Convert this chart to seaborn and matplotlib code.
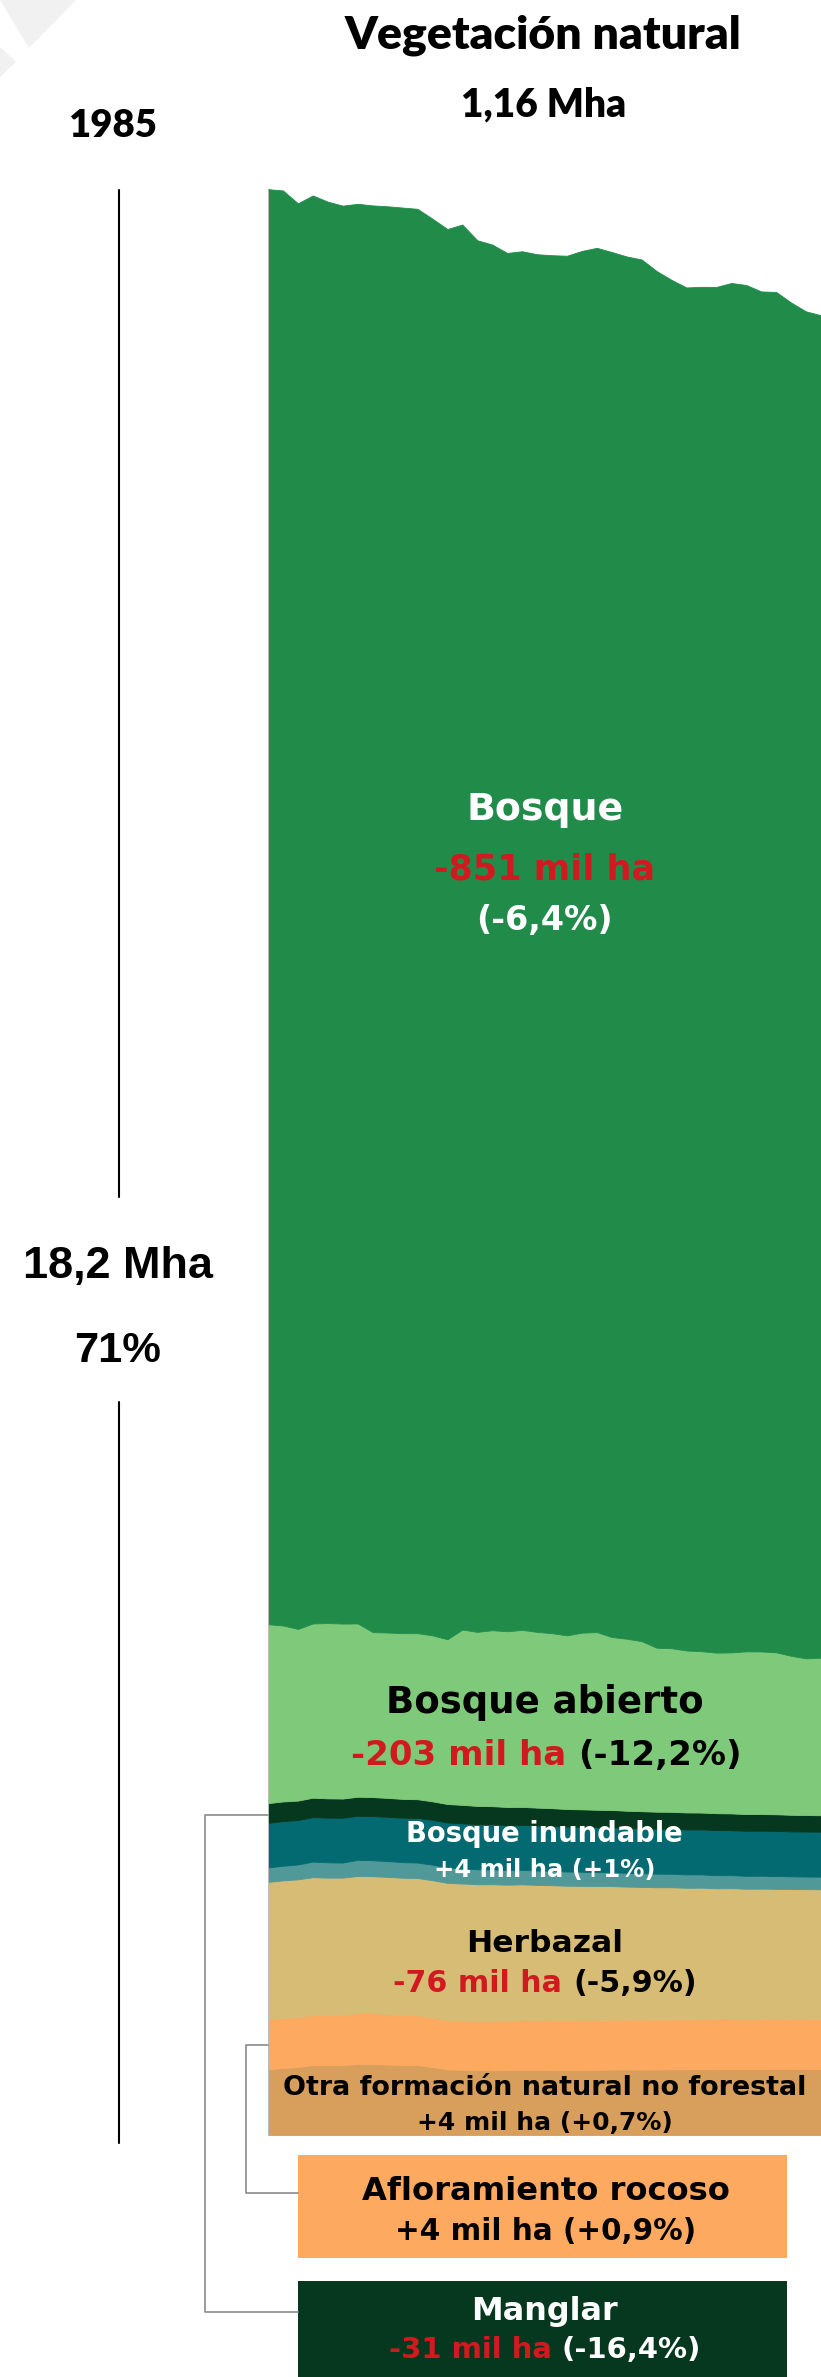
import matplotlib
matplotlib.use("Agg")
import matplotlib.pyplot as plt
from matplotlib.patches import Rectangle, Polygon
from matplotlib.lines import Line2D
import pandas as pd
import seaborn as sns

# area (mil ha) per year, bottom layer first
years = list(range(1985, 2023))
otra = [615, 627, 636, 655, 655, 655, 665, 665, 660, 655, 655, 636, 615, 611, 608, 608, 608, 611, 611,
        608, 608, 608, 611, 613, 613, 612, 614, 615, 615, 616, 615, 617, 617, 618, 619, 618, 619, 619]
afloramiento = [466, 470, 468, 468, 467, 468, 476, 476, 472, 468, 466, 462, 460, 460, 461, 462, 463, 464, 465,
                466, 466, 467, 467, 467, 468, 468, 468, 468, 468, 469, 469, 469, 469, 470, 470, 470, 470, 470]
herbazal = [1288, 1286, 1289, 1290, 1287, 1286, 1283, 1281, 1284, 1285, 1284, 1287, 1285, 1283, 1278, 1277,
            1272, 1271, 1265, 1264, 1259, 1257, 1252, 1250, 1244, 1242, 1237, 1236, 1231, 1230, 1225, 1224,
            1219, 1218, 1215, 1214, 1212, 1211]
humedal = [135, 137, 139, 146, 143, 141, 152, 150, 148, 146, 145, 145, 144, 142, 140, 139, 137, 136, 135,
           134, 133, 132, 131, 130, 129, 128, 127, 126, 125, 124, 123, 122, 121, 121, 120, 119, 118, 118]
inundable = [417, 418, 416, 416, 418, 419, 412, 413, 414, 416, 418, 420, 421, 422, 422, 422, 421, 421, 421,
             421, 420, 420, 420, 420, 420, 421, 420, 421, 421, 421, 422, 421, 421, 421, 422, 421, 421, 421]
manglar = [185, 184, 182, 182, 181, 180, 178, 178, 177, 176, 175, 173, 173, 172, 171, 170, 169, 168, 167,
           166, 165, 164, 163, 162, 161, 160, 160, 159, 159, 158, 158, 157, 157, 156, 156, 155, 155, 154]
abierto = [1675, 1647, 1607, 1631, 1641, 1638, 1622, 1544, 1548, 1551, 1554, 1554, 1542, 1641, 1629, 1647,
           1645, 1657, 1645, 1638, 1625, 1654, 1663, 1619, 1610, 1591, 1535, 1531, 1516, 1510, 1503, 1507,
           1523, 1522, 1516, 1488, 1466, 1475]
bosque = [13432, 13432, 13344, 13366, 13304, 13272, 13288, 13354, 13350, 13344, 13332, 13260, 13200, 13151,
          13026, 12970, 12901, 12904, 12895, 12898, 12914, 12933, 12957, 12964, 12938, 12933, 12886, 12808,
          12758, 12771, 12783, 12818, 12789, 12730, 12733, 12667, 12608, 12565]

classes = ["otra", "afloramiento", "herbazal", "humedal", "inundable", "manglar", "abierto", "bosque"]
colors = ["#d89e5c", "#fda95f", "#d6bc74", "#519898", "#046a72", "#05381e", "#7fca7a", "#218c4a"]

df = pd.DataFrame(dict(zip(classes, [otra, afloramiento, herbazal, humedal, inundable,
                                     manglar, abierto, bosque])), index=years)

W, H = 821, 2377
RED = "#d11a1f"

sns.set_theme(style="white")
plt.rcParams["font.family"] = ["DejaVu Sans"]

fig = plt.figure(figsize=(W / 100, H / 100), dpi=100)
renderer = fig.canvas.get_renderer()


def fx(x):
    return x / W


def fy(y):
    return 1 - y / H


# stacked area, 9.36 mil ha per pixel
ax = fig.add_axes([fx(268), fy(2135), (821 - 268) / W, (2135 - 100) / H])
ax.stackplot(df.index, df.T.values, colors=colors, linewidth=0.6, edgecolor="face")
ax.set_xlim(1985, 2022)
ax.set_ylim(0, 2035 * 9.36)
ax.set_axis_off()

# decorations drawn in figure pixels
fig.add_artist(Polygon([(fx(0), fy(0)), (fx(76), fy(0)), (fx(29), fy(48))], closed=True,
                       transform=fig.transFigure, color="#f1f1f1", lw=0))
fig.add_artist(Polygon([(fx(0), fy(47)), (fx(16), fy(62)), (fx(0), fy(77))], closed=True,
                       transform=fig.transFigure, color="#f1f1f1", lw=0))
fig.add_artist(Line2D([fx(268), fx(268)], [fy(190), fy(2135)], transform=fig.transFigure,
                      color="#bdbdbd", lw=0.7))
for y0, y1 in [(190, 1197), (1402, 2143)]:
    fig.add_artist(Line2D([fx(118.5), fx(118.5)], [fy(y0), fy(y1)], transform=fig.transFigure,
                          color="black", lw=1.5))
for xs, ys in [([268, 205, 205, 298], [1815, 1815, 2312, 2312]),
               ([268, 246, 246, 298], [2045, 2045, 2193, 2193])]:
    fig.add_artist(Line2D([fx(v) for v in xs], [fy(v) for v in ys], transform=fig.transFigure,
                          color="#8a8a8a", lw=1.2))
fig.add_artist(Rectangle((fx(298), fy(2258)), (787 - 298) / W, (2258 - 2155) / H,
                         transform=fig.transFigure, color="#fda95f", lw=0))
fig.add_artist(Rectangle((fx(298), fy(2377)), (787 - 298) / W, (2377 - 2281) / H,
                         transform=fig.transFigure, color="#05381e", lw=0))


def label(x, y, parts, width, family="DejaVu Sans", weight="bold"):
    # one centred line made of coloured pieces, sized to the given pixel width
    texts = [fig.text(0, fy(y), s, ha="left", va="baseline", color=c, fontsize=20,
                      fontweight=weight, family=family) for s, c in parts]
    widths = [t.get_window_extent(renderer).width for t in texts]
    gap = 0.348 * 20 * 100 / 72
    scale = width / (sum(widths) + gap * (len(parts) - 1))
    left = x - width / 2
    for t, w in zip(texts, widths):
        t.set_fontsize(20 * scale)
        t.set_x(fx(left))
        left += (w + gap) * scale


label(544, 49, [("Vegetación natural", "black")], 398, family="Lato", weight="heavy")
label(543, 117, [("1,16 Mha", "black")], 165, family="Lato", weight="heavy")
label(113, 137, [("1985", "black")], 89, family="Lato", weight="heavy")
label(118, 1278, [("18,2 Mha", "black")], 190, family="Liberation Sans")
label(118, 1362, [("71%", "black")], 87, family="Liberation Sans")

label(545, 820, [("Bosque", "white")], 157)
label(545, 880, [("-851 mil ha", RED)], 221)
label(545, 930, [("(-6,4%)", "white")], 137)

label(545, 1713, [("Bosque abierto", "black")], 318)
label(546, 1765, [("-203 mil ha", RED), ("(-12,2%)", "black")], 390)

label(545, 1842, [("Bosque inundable", "white")], 278)
label(545, 1877, [("+4 mil ha (+1%)", "white")], 222)

label(545, 1952, [("Herbazal", "black")], 157)
label(545, 1992, [("-76 mil ha", RED), ("(-5,9%)", "black")], 304)

label(545, 2095, [("Otra formación natural no forestal", "black")], 525)
label(545, 2130, [("+4 mil ha (+0,7%)", "black")], 256)

label(546, 2200, [("Afloramiento rocoso", "black")], 368)
label(546, 2240, [("+4 mil ha (+0,9%)", "black")], 302)

label(545, 2320, [("Manglar", "white")], 147)
label(545, 2358, [("-31 mil ha", RED), ("(-16,4%)", "white")], 312)

fig.savefig("out.png", dpi=100)
